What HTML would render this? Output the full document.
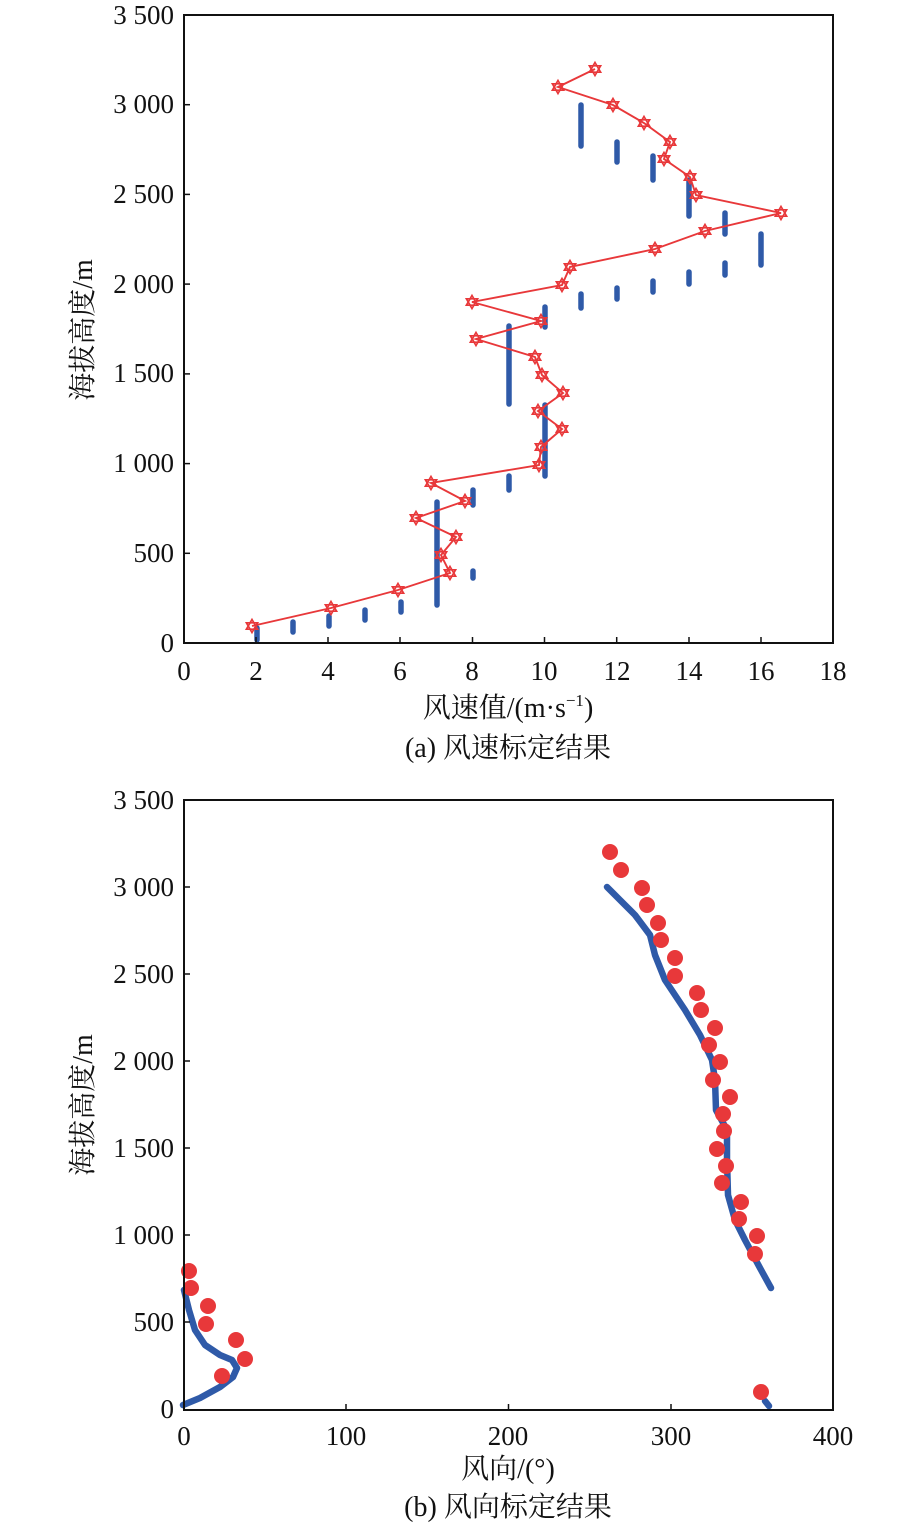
<!DOCTYPE html>
<html><head><meta charset="utf-8"><style>
body{margin:0;background:#fff}
svg{display:block}
text{font-family:"Liberation Serif","Noto Serif CJK SC",serif;fill:#111}
</style></head><body>
<svg width="921" height="1528" viewBox="0 0 921 1528" xmlns="http://www.w3.org/2000/svg">
<defs>
<g id="st"><polygon points="0,-6.5 5.6,3.2 -5.6,3.2" fill="none" stroke="#e8383a" stroke-width="1.7"/><polygon points="0,6.5 5.6,-3.2 -5.6,-3.2" fill="none" stroke="#e8383a" stroke-width="1.7"/></g>
</defs>
<g stroke="#2f5aa8" stroke-width="5.5" stroke-linecap="round">
<line x1="257" y1="628" x2="257" y2="640"/><line x1="293" y1="622" x2="293" y2="632"/><line x1="329" y1="616" x2="329" y2="626"/><line x1="365" y1="610" x2="365" y2="620"/><line x1="401" y1="602" x2="401" y2="612"/><line x1="437" y1="502" x2="437" y2="605"/><line x1="473" y1="571" x2="473" y2="578"/><line x1="473" y1="490" x2="473" y2="505"/><line x1="509" y1="476" x2="509" y2="490"/><line x1="545" y1="405" x2="545" y2="476"/><line x1="509" y1="326" x2="509" y2="404"/><line x1="545" y1="307" x2="545" y2="327"/><line x1="581" y1="294" x2="581" y2="308"/><line x1="617" y1="288" x2="617" y2="299"/><line x1="653" y1="281" x2="653" y2="292"/><line x1="689" y1="272" x2="689" y2="284"/><line x1="725" y1="263" x2="725" y2="275"/><line x1="761" y1="234" x2="761" y2="265"/><line x1="725" y1="213" x2="725" y2="234"/><line x1="689" y1="180" x2="689" y2="216"/><line x1="653" y1="156" x2="653" y2="180"/><line x1="617" y1="142" x2="617" y2="162"/><line x1="581" y1="105" x2="581" y2="146"/>
</g>
<polyline fill="none" stroke="#e8383a" stroke-width="1.9" points="252,626 331,608 398,590 450,573 441,555 456,537 416,518 465,501 431,483 539,465 541,447 562,429 538,411 563,393 542,375 535,357 476,339 541,321 472,302 562,285 570,267 655,249 705,231 781,213 696,195 690,177 664,159 670,142 644,123 613,105 558,87 595,69"/>
<g>
<use href="#st" x="252" y="626"/><use href="#st" x="331" y="608"/><use href="#st" x="398" y="590"/><use href="#st" x="450" y="573"/><use href="#st" x="441" y="555"/><use href="#st" x="456" y="537"/><use href="#st" x="416" y="518"/><use href="#st" x="465" y="501"/><use href="#st" x="431" y="483"/><use href="#st" x="539" y="465"/><use href="#st" x="541" y="447"/><use href="#st" x="562" y="429"/><use href="#st" x="538" y="411"/><use href="#st" x="563" y="393"/><use href="#st" x="542" y="375"/><use href="#st" x="535" y="357"/><use href="#st" x="476" y="339"/><use href="#st" x="541" y="321"/><use href="#st" x="472" y="302"/><use href="#st" x="562" y="285"/><use href="#st" x="570" y="267"/><use href="#st" x="655" y="249"/><use href="#st" x="705" y="231"/><use href="#st" x="781" y="213"/><use href="#st" x="696" y="195"/><use href="#st" x="690" y="177"/><use href="#st" x="664" y="159"/><use href="#st" x="670" y="142"/><use href="#st" x="644" y="123"/><use href="#st" x="613" y="105"/><use href="#st" x="558" y="87"/><use href="#st" x="595" y="69"/>
</g>
<rect x="184" y="15" width="649" height="628" fill="none" stroke="#111" stroke-width="2"/>
<g stroke="#111" stroke-width="1.5">
<line x1="184" y1="104.7" x2="190" y2="104.7"/><line x1="184" y1="194.4" x2="190" y2="194.4"/><line x1="184" y1="284.1" x2="190" y2="284.1"/><line x1="184" y1="373.9" x2="190" y2="373.9"/><line x1="184" y1="463.6" x2="190" y2="463.6"/><line x1="184" y1="553.3" x2="190" y2="553.3"/>
<line x1="256" y1="643" x2="256" y2="637"/><line x1="328" y1="643" x2="328" y2="637"/><line x1="400" y1="643" x2="400" y2="637"/><line x1="472.5" y1="643" x2="472.5" y2="637"/><line x1="544.5" y1="643" x2="544.5" y2="637"/><line x1="616.7" y1="643" x2="616.7" y2="637"/><line x1="689" y1="643" x2="689" y2="637"/><line x1="761" y1="643" x2="761" y2="637"/>
</g>
<g font-size="27" text-anchor="end">
<text x="174" y="24">3 500</text><text x="174" y="113">3 000</text><text x="174" y="203">2 500</text><text x="174" y="293">2 000</text><text x="174" y="382">1 500</text><text x="174" y="472">1 000</text><text x="174" y="562">500</text><text x="174" y="652">0</text>
</g>
<g font-size="27" text-anchor="middle">
<text x="184" y="680">0</text><text x="256" y="680">2</text><text x="328" y="680">4</text><text x="400" y="680">6</text><text x="472" y="680">8</text><text x="544" y="680">10</text><text x="617" y="680">12</text><text x="689" y="680">14</text><text x="761" y="680">16</text><text x="833" y="680">18</text>
<text x="508" y="717" font-size="28">风速值/(m·s<tspan font-size="17" dy="-11">−1</tspan><tspan dy="11">)</tspan></text>
<text x="508" y="757" font-size="28">(a) 风速标定结果</text>
<text transform="translate(92,330) rotate(-90)" font-size="28">海拔高度/m</text>
</g>
<g fill="none" stroke="#2f5aa8" stroke-width="6.5" stroke-linecap="round" stroke-linejoin="round">
<polyline points="183,1405 200,1398 220,1387 233,1377 237,1368 232,1360 220,1355 205,1345 195,1330 189,1310 184,1290"/>
<polyline points="771,1288 760,1268 745,1240 735,1220 728,1195 727,1160 727,1130 716,1110 715,1080 712,1060 700,1035 685,1010 665,980 655,955 650,935 635,915 620,900 607,887"/>
<polyline points="765,1401 769,1406"/>
</g>
<g fill="#e8383a">
<circle cx="189" cy="1271" r="8"/><circle cx="191" cy="1288" r="8"/><circle cx="208" cy="1306" r="8"/><circle cx="206" cy="1324" r="8"/><circle cx="236" cy="1340" r="8"/><circle cx="245" cy="1359" r="8"/><circle cx="222" cy="1376" r="8"/><circle cx="761" cy="1392" r="8"/><circle cx="755" cy="1254" r="8"/><circle cx="757" cy="1236" r="8"/><circle cx="739" cy="1219" r="8"/><circle cx="741" cy="1202" r="8"/><circle cx="722" cy="1183" r="8"/><circle cx="726" cy="1166" r="8"/><circle cx="717" cy="1149" r="8"/><circle cx="724" cy="1131" r="8"/><circle cx="723" cy="1114" r="8"/><circle cx="730" cy="1097" r="8"/><circle cx="713" cy="1080" r="8"/><circle cx="720" cy="1062" r="8"/><circle cx="709" cy="1045" r="8"/><circle cx="715" cy="1028" r="8"/><circle cx="701" cy="1010" r="8"/><circle cx="697" cy="993" r="8"/><circle cx="675" cy="976" r="8"/><circle cx="675" cy="958" r="8"/><circle cx="661" cy="940" r="8"/><circle cx="658" cy="923" r="8"/><circle cx="647" cy="905" r="8"/><circle cx="642" cy="888" r="8"/><circle cx="621" cy="870" r="8"/><circle cx="610" cy="852" r="8"/>
</g>
<rect x="184" y="800" width="649" height="610" fill="none" stroke="#111" stroke-width="2"/>
<g stroke="#111" stroke-width="1.5">
<line x1="184" y1="887" x2="190" y2="887"/><line x1="184" y1="974" x2="190" y2="974"/><line x1="184" y1="1061" x2="190" y2="1061"/><line x1="184" y1="1148" x2="190" y2="1148"/><line x1="184" y1="1235" x2="190" y2="1235"/><line x1="184" y1="1322" x2="190" y2="1322"/>
<line x1="346" y1="1410" x2="346" y2="1404"/><line x1="508.5" y1="1410" x2="508.5" y2="1404"/><line x1="671" y1="1410" x2="671" y2="1404"/>
</g>
<g font-size="27" text-anchor="end">
<text x="174" y="809">3 500</text><text x="174" y="896">3 000</text><text x="174" y="983">2 500</text><text x="174" y="1070">2 000</text><text x="174" y="1157">1 500</text><text x="174" y="1244">1 000</text><text x="174" y="1331">500</text><text x="174" y="1418">0</text>
</g>
<g font-size="27" text-anchor="middle">
<text x="184" y="1445">0</text><text x="346" y="1445">100</text><text x="508" y="1445">200</text><text x="671" y="1445">300</text><text x="833" y="1445">400</text>
<text x="508" y="1478" font-size="28">风向/(°)</text>
<text x="508" y="1516" font-size="28">(b) 风向标定结果</text>
<text transform="translate(92,1105) rotate(-90)" font-size="28">海拔高度/m</text>
</g>
</svg>
</body></html>
